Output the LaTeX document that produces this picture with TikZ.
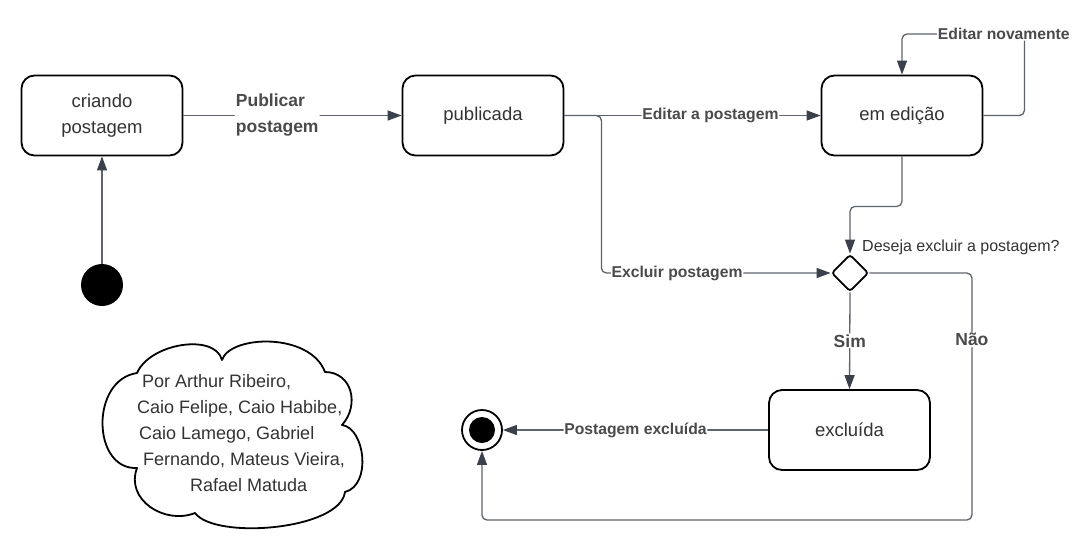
\documentclass[tikz,border=0pt]{standalone}
\usepackage{fontspec}
\setmainfont{Liberation Sans}
\usetikzlibrary{arrows.meta,shapes.geometric}
\definecolor{ln}{HTML}{5F636A}
\definecolor{tipc}{HTML}{3B414B}
\definecolor{txt}{HTML}{333333}
\definecolor{lbl}{HTML}{4A4A4A}
\begin{document}
\begin{tikzpicture}[x=1pt,y=-1pt,
 state/.style={draw=black,line width=1.8pt,rounded corners=13pt,minimum width=161pt,minimum height=80pt,align=center,text=txt,font=\fontsize{18.5}{26}\selectfont,inner sep=0},
 conn/.style={draw=ln,line width=1.3pt,rounded corners=5pt,-{Triangle[length=14pt,width=10pt,fill=tipc,color=tipc]}},
 elbl/.style={fill=white,inner sep=0.8pt,text=lbl,font=\bfseries\fontsize{15.7}{19}\selectfont},
 biglbl/.style={fill=white,inner sep=1pt,text=lbl,font=\bfseries\fontsize{17.5}{26}\selectfont,align=left},
 cloudtxt/.style={anchor=base west,inner sep=0,text=txt,font=\fontsize{18}{22}\selectfont},
]
\fill[white] (0,0) rectangle (1081,542);
\useasboundingbox (0,0) rectangle (1081,542);

% states
\node[state] (cri) at (102,115.5) {criando\\postagem};
\node[state] (pub) at (483,115.5) {publicada};
\node[state] (edi) at (902,115.5) {em edição};
\node[state] (exc) at (849.5,430) {excluída};
\node[circle,fill=black,minimum size=42pt,inner sep=0] (ini) at (102,285) {};
\node[diamond,draw=black,line width=1.8pt,rounded corners=3pt,minimum width=37pt,minimum height=37pt,inner sep=0,fill=white] (dia) at (850,273) {};
\node[circle,draw=black,line width=1.8pt,minimum size=40pt,inner sep=0] (fin) at (482,430) {};
\fill[black] (fin.center) circle (13pt);
\node[anchor=base west,text=txt,font=\fontsize{16}{19}\selectfont,inner sep=0] (q) at (862,251) {Deseja excluir a postagem?};

% connectors
\draw[conn] (ini) -- (cri);
\draw[conn] (cri) -- node[biglbl,pos=0.43]{Publicar\\postagem} (pub);
\draw[conn] (pub) -- node[elbl,pos=0.57]{Editar a postagem} (edi);
\draw[conn] (pub.east) -- ++(37,0) |- node[elbl,pos=0.665]{Excluir postagem} (dia.west);
\draw[conn] (edi.south) -- ++(0,50) -| (dia.north);
\draw[conn] (edi.east) -- ++(41,0) -- ++(0,-81.5) -| node[elbl,pos=0.084]{Editar novamente} (edi.north);
\draw[conn] (dia.south) -- node[biglbl,pos=0.5]{Sim} (exc.north);
\draw[conn] (dia.east) -- ++(102.5,0) -- node[biglbl,pos=0.27]{Não} ++(0,247) -| (fin.south);
\draw[conn] (exc) -- node[elbl,pos=0.5]{Postagem excluída} (fin);

% cloud note
\draw[black,line width=1.8pt,fill=white,line join=round] (137,373)
 .. controls (150,343) and (215,333) .. (222,360)
 .. controls (230,335) and (310,332) .. (325,372)
 .. controls (352,372) and (360,405) .. (342,425)
 .. controls (365,428) and (372,485) .. (345,492)
 .. controls (340,530) and (215,540) .. (195,513)
 .. controls (165,525) and (125,500) .. (137,468)
 .. controls (92,470) and (90,380) .. (137,373) -- cycle;
\node[cloudtxt] (c1) at (142,387) {Por Arthur Ribeiro,};
\node[cloudtxt] (c2) at (137,413) {Caio Felipe, Caio Habibe,};
\node[cloudtxt] (c3) at (139,439) {Caio Lamego, Gabriel};
\node[cloudtxt] (c4) at (143,465) {Fernando, Mateus Vieira,};
\node[cloudtxt] (c5) at (190,491) {Rafael Matuda};
\end{tikzpicture}
\end{document}
